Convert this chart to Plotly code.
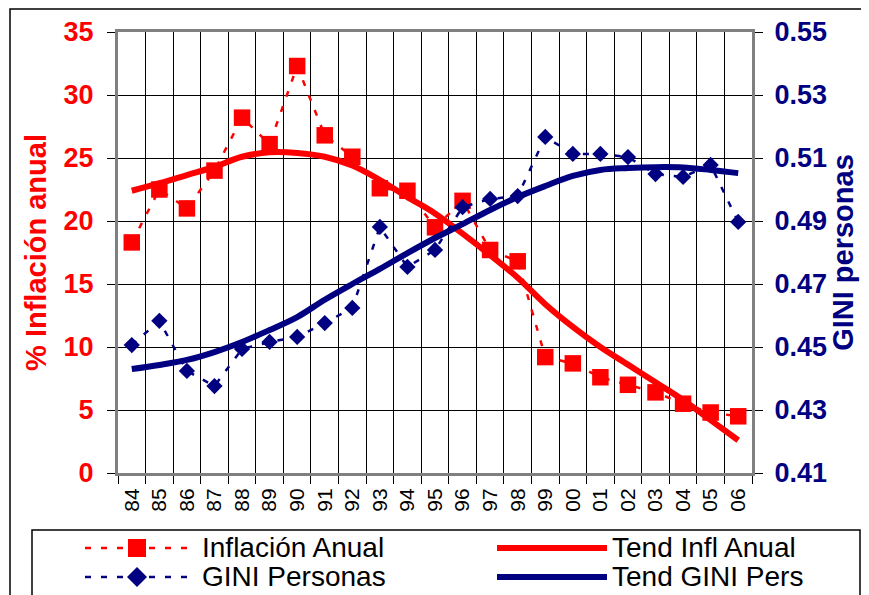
import plotly.graph_objects as go

# --- data ---
years = ["84", "85", "86", "87", "88", "89", "90", "91", "92", "93", "94", "95",
         "96", "97", "98", "99", "00", "01", "02", "03", "04", "05", "06"]

inflacion = [18.3, 22.5, 21.0, 24.0, 28.2, 26.1, 32.3, 26.8, 25.1, 22.6, 22.4, 19.5,
             21.6, 17.7, 16.8, 9.2, 8.7, 7.6, 7.0, 6.4, 5.5, 4.8, 4.5]

tend_infl = [22.4, 23.0, 23.65, 24.3, 25.1, 25.45, 25.4, 25.1, 24.4, 23.25, 21.9, 20.6,
             19.0, 17.3, 15.5, 13.4, 11.6, 10.0, 8.6, 7.2, 5.8, 4.2, 2.6]

gini = [0.4506, 0.4583, 0.4424, 0.4376, 0.4494, 0.4516, 0.4532, 0.4576, 0.4624, 0.4881,
        0.4754, 0.4808, 0.4944, 0.4970, 0.4979, 0.5167, 0.5113, 0.5113, 0.5103, 0.5049,
        0.5040, 0.5078, 0.4897]

tend_gini = [0.4430, 0.4443, 0.4459, 0.4484, 0.4516, 0.4554, 0.4595, 0.4650, 0.4700, 0.4748,
             0.4798, 0.4846, 0.4890, 0.4935, 0.4976, 0.5011, 0.5043, 0.5062, 0.5068, 0.5071,
             0.5070, 0.5062, 0.5052]

legend_labels = ["Inflación Anual", "GINI Personas", "Tend Infl Anual", "Tend GINI Pers"]

RED = "#FF0000"
NAVY = "#000080"
FONT = "Liberation Sans, Arial, sans-serif"
DASH = "6px,10px"

# page body margin of the html page shifts the figure by 8px
OFF = 8
W, H = 869 - OFF, 595 - OFF
# plot area in reference-picture pixels (left, right, top, bottom)
L, R, T, B = 118, 752, 32, 473


def px(x):
    return (x - L) / (R - L)


def py(y):
    return (B - y) / (B - T)


fig = go.Figure()

# --- series ---
fig.add_trace(go.Scatter(
    x=years, y=inflacion, name=legend_labels[0], mode="lines+markers",
    line=dict(color=RED, width=2.5, dash=DASH),
    marker=dict(symbol="square", size=16.5, color=RED),
))
fig.add_trace(go.Scatter(
    x=years, y=gini, name=legend_labels[1], mode="lines+markers", yaxis="y2",
    line=dict(color=NAVY, width=2.5, dash=DASH),
    marker=dict(symbol="diamond", size=12.5, color=NAVY),
))
fig.add_trace(go.Scatter(
    x=years, y=tend_infl, name=legend_labels[2], mode="lines",
    line=dict(color=RED, width=6, shape="spline"),
))
fig.add_trace(go.Scatter(
    x=years, y=tend_gini, name=legend_labels[3], mode="lines", yaxis="y2",
    line=dict(color=NAVY, width=6, shape="spline"),
))

# --- layout ---
fig.update_layout(
    width=W, height=H,
    margin=dict(l=L - OFF, r=869 - R, t=T - OFF, b=595 - B, autoexpand=False),
    paper_bgcolor="white", plot_bgcolor="white",
    font=dict(family=FONT, color="black"),
    showlegend=False,
    xaxis=dict(
        type="category", tickson="boundaries",
        showgrid=True, gridcolor="#000000", gridwidth=1,
        ticks="outside", ticklen=8, tickcolor="black",
        tickangle=-90, tickfont=dict(size=21, family=FONT, color="black"),
        ticklabelstandoff=4,
        showline=True, linecolor="#808080", linewidth=3, mirror=True,
        range=[-0.5, 22.5],
    ),
    yaxis=dict(
        range=[0, 35], dtick=5,
        showgrid=True, gridcolor="#000000", gridwidth=1,
        ticks="outside", ticklen=8, tickcolor="black",
        tickfont=dict(size=27, family=FONT, color=RED, weight="bold"),
        ticklabelstandoff=8,
        title=dict(text="% Inflación anual", standoff=9,
                   font=dict(size=29, family=FONT, color=RED, weight="bold")),
        showline=True, linecolor="#808080", linewidth=3, mirror=True,
        zeroline=False,
    ),
    yaxis2=dict(
        overlaying="y", side="right",
        range=[0.41, 0.55], tick0=0.41, dtick=0.02, tickformat=".2f",
        showgrid=False,
        ticks="outside", ticklen=8, tickcolor="black",
        tickfont=dict(size=27, family=FONT, color=NAVY, weight="bold"),
        ticklabelstandoff=6,
        title=dict(text="GINI personas", standoff=2,
                   font=dict(size=29, family=FONT, color=NAVY, weight="bold")),
        showline=True, linecolor="#808080", linewidth=3,
        zeroline=False,
    ),
)

shapes = []
# outer chart border
shapes.append(dict(type="rect", xref="paper", yref="paper",
                   x0=px(10), x1=px(868), y0=py(620), y1=py(9),
                   line=dict(color="black", width=1.5), layer="below"))
# legend box
shapes.append(dict(type="rect", xref="paper", yref="paper",
                   x0=px(32), x1=px(860), y0=py(620), y1=py(530),
                   line=dict(color="black", width=1.5), fillcolor="white", layer="below"))

row_y = [548, 577]
# left column: dashed lines with markers
for yy, col in zip(row_y, [RED, NAVY]):
    shapes.append(dict(type="line", xref="paper", yref="paper",
                       x0=px(85), x1=px(190), y0=py(yy), y1=py(yy),
                       line=dict(color=col, width=2.5, dash=DASH)))
shapes.append(dict(type="rect", xref="paper", yref="paper",
                   x0=px(128), x1=px(146), y0=py(row_y[0] + 9), y1=py(row_y[0] - 9),
                   line=dict(width=0), fillcolor=RED))
cx, cy, h = 137, row_y[1], 10
shapes.append(dict(type="path", xref="paper", yref="paper",
                   path=f"M {px(cx - h)} {py(cy)} L {px(cx)} {py(cy - h)} "
                        f"L {px(cx + h)} {py(cy)} L {px(cx)} {py(cy + h)} Z",
                   line=dict(width=0), fillcolor=NAVY))
# right column: solid trend lines
for yy, col in zip(row_y, [RED, NAVY]):
    shapes.append(dict(type="line", xref="paper", yref="paper",
                       x0=px(497), x1=px(607), y0=py(yy), y1=py(yy),
                       line=dict(color=col, width=6)))
fig.update_layout(shapes=shapes)

# legend texts
for i, label in enumerate(legend_labels):
    xx = 200 if i < 2 else 610
    yy = row_y[i % 2] - 1
    fig.add_annotation(x=px(xx), y=py(yy), xref="paper", yref="paper",
                       text=label, showarrow=False, xanchor="left", yanchor="middle",
                       font=dict(size=28, family=FONT, color="black"))

fig.write_html("out.html")
